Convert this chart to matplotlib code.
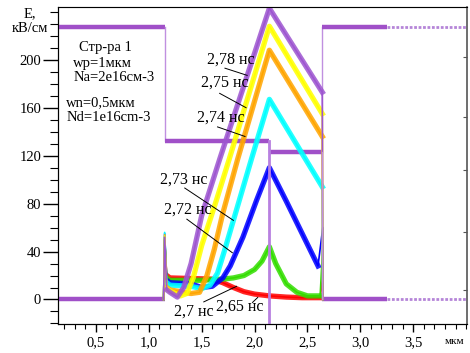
import numpy as np
import matplotlib.pyplot as plt
from matplotlib.ticker import MultipleLocator, FixedLocator

plt.rcParams["font.family"] = ["Liberation Serif", "DejaVu Serif"]

# --------------------------------------------------------------------------- #
# Structure outline (upper step line and zero line)
struct_x = [0.14, 1.15, 1.15, 2.14, 2.14, 2.64, 2.64, 3.25]
struct_y = [227, 227, 132, 132, 123, 123, 227, 227]
struct_tail_x = [3.25, 4.0]
zero_x = [0.14, 1.15]
zero2_x = [2.64, 3.25]
zero_tail_x = [3.25, 4.0]
junction_x = 2.14

# Field profiles E(x) at different times, kV/cm
curves = [
    ("2,65", "#ff0000",
     [1.14, 1.15, 1.17, 1.2, 1.4, 1.6, 1.7, 1.8, 1.9, 2.0, 2.14, 2.3, 2.45, 2.62, 2.645, 2.645],
     [0, 50, 20, 18, 17.5, 17, 14, 10, 6.5, 4.5, 3, 2, 1.5, 1.5, 20, 0]),
    ("2,7", "#33dd00",
     [1.14, 1.15, 1.17, 1.2, 1.5, 1.7, 1.8, 1.9, 2.0, 2.07, 2.14, 2.2, 2.3, 2.4, 2.5, 2.62, 2.645, 2.645],
     [0, 52, 18, 16, 16, 17, 18, 20, 25, 32, 44, 30, 13, 6, 3, 3, 45, 0]),
    ("2,72", "#0000ff",
     [1.14, 1.15, 1.17, 1.2, 1.4, 1.5, 1.6, 1.7, 1.77, 1.89, 2.02, 2.14, 2.3, 2.45, 2.6, 2.645, 2.645],
     [0, 55, 16, 14, 13, 10, 11, 18, 28, 52, 83, 110, 82, 55, 28, 60, 0]),
    ("2,73", "#00ffff",
     [1.14, 1.15, 1.17, 1.2, 1.4, 1.5, 1.58, 1.65, 1.72, 1.8, 1.97, 2.14, 2.64, 2.645],
     [0, 56, 14, 12, 11, 9, 12, 22, 42, 66, 117, 167, 94, 0]),
    ("2,74", "#ffa500",
     [1.14, 1.15, 1.17, 1.2, 1.4, 1.48, 1.55, 1.62, 1.7, 1.84, 2.14, 2.64, 2.645],
     [0, 54, 10, 8, 5, 6, 20, 42, 72, 117, 208, 136, 0]),
    ("2,75", "#ffff00",
     [1.14, 1.15, 1.17, 1.2, 1.3, 1.36, 1.42, 1.5, 1.64, 1.76, 2.14, 2.64, 2.645],
     [0, 53, 9, 7, 3, 5, 18, 45, 83, 117, 228, 155, 0]),
    ("2,78", "#9d55d0",
     [1.14, 1.15, 1.17, 1.2, 1.27, 1.33, 1.4, 1.5, 1.67, 2.14, 2.64, 2.645],
     [0, 52, 8, 6, 2, 10, 30, 70, 117, 243, 173, 0]),
]

# label text position and leader line (start, end) in data units
labels = {
    "2,78": (1.55, 200, (1.72, 193), (1.93, 187)),
    "2,75": (1.49, 181, (1.67, 172), (1.92, 160)),
    "2,74": (1.46, 152, (1.65, 144), (1.91, 136)),
    "2,73": (1.11, 100, (1.34, 93), (1.80, 66)),
    "2,72": (1.14, 75, (1.36, 67), (1.79, 39)),
    "2,7": (1.24, -10, (1.52, -2), (1.83, 11)),
    "2,65": (1.64, -6, (1.98, -2.5), (2.03, 1.7)),
}

info_lines = [("Стр-ра 1", 0.34, 210), ("wp=1мкм", 0.28, 197), ("Na=2e16см-3", 0.29, 185),
              ("wn=0,5мкм", 0.22, 164), ("Nd=1e16cm-3", 0.22, 152)]

x_ticks = [0.5, 1.0, 1.5, 2.0, 2.5, 3.0, 3.5]
x_ticklabels = ["0,5", "1,0", "1,5", "2,0", "2,5", "3,0", "3,5"]
y_ticks = [0, 40, 80, 120, 160, 200]
right_ticks = [8, 56, 108, 152, 202]

# --------------------------------------------------------------------------- #
fig = plt.figure(figsize=(4.7, 3.53), dpi=100)
ax = fig.add_axes([0.123, 0.082, 0.871, 0.898])

sc = "#a050c8"
for i in range(len(struct_x) - 1):
    xs = struct_x[i:i + 2]
    ys = struct_y[i:i + 2]
    if ys[0] == ys[1]:
        ax.plot(xs, ys, color=sc, lw=3.2, solid_capstyle="butt", zorder=3)
    else:
        ax.plot(xs, ys, color="#c090e0", lw=1, zorder=3)
ax.plot(struct_tail_x, [227, 227], color="#b585d8", lw=2, ls=(0, (1, 0.6)), zorder=3)
ax.plot([2.64, 2.64], [0, 123], color="#c090e0", lw=1, zorder=6)
ax.plot([junction_x, junction_x], [-25, 132], color="#b880e0", lw=2, zorder=7)

ax.plot(zero_x, [0, 0], color=sc, lw=3.2, solid_capstyle="butt", zorder=3)
ax.plot(zero2_x, [0, 0], color=sc, lw=3.2, solid_capstyle="butt", zorder=3)
ax.plot(zero_tail_x, [0, 0], color="#b585d8", lw=2, ls=(0, (1, 0.6)), zorder=3)

for name, col, xs, ys in curves:
    xs = np.array(xs)
    ys = np.array(ys)
    ax.plot(xs, ys, color=col, lw=1.2, zorder=4)
    body = (xs > 1.16) & (xs < 2.642)
    ax.plot(xs[body], ys[body], color=col, lw=3.8, alpha=0.85,
            solid_joinstyle="round", zorder=4)

for name, (tx, ty, p0, p1) in labels.items():
    ax.text(tx, ty, name + " нс", fontsize=11.5, va="center", ha="left", zorder=8)
    ax.plot([p0[0], p1[0]], [p0[1], p1[1]], color="black", lw=0.7, zorder=8)

for txt, tx, ty in info_lines:
    ax.text(tx, ty, txt, fontsize=10.5, va="center", ha="left")

ax.set_xlim(0.14, 4.01)
ax.set_ylim(-20.5, 244)

ax.set_xticks(x_ticks)
ax.set_xticklabels(x_ticklabels)
ax.xaxis.set_minor_locator(MultipleLocator(0.1))
ax.set_yticks(y_ticks)
ax.yaxis.set_minor_locator(MultipleLocator(10))
ax.tick_params(axis="x", which="major", direction="out", length=6, width=1, labelsize=10.5, pad=3)
ax.tick_params(axis="x", which="minor", direction="out", length=3.5, width=0.8)
ax.tick_params(axis="y", which="major", direction="out", length=11, width=1, labelsize=10.5, pad=1)
ax.tick_params(axis="y", which="minor", direction="out", length=6, width=0.8)

ax.spines["top"].set_color("#999999")
ax.spines["right"].set_color("#555555")
ax.spines["right"].set_linewidth(1.2)

ax2 = ax.twinx()
ax2.set_ylim(ax.get_ylim())
ax2.yaxis.set_major_locator(FixedLocator(right_ticks))
ax2.tick_params(axis="y", direction="in", length=3, labelright=False, colors="#555555")
ax2.spines["right"].set_visible(False)

fig.text(30 / 470, 1 - 14 / 353, "E,", fontsize=10.5, ha="center", va="center")
fig.text(30 / 470, 1 - 29 / 353, "кВ/см", fontsize=10.5, ha="center", va="center")
fig.text(455 / 470, 1 - 341 / 353, "мкм", fontsize=8, ha="center", va="center")

plt.savefig("out.png", dpi=100)
